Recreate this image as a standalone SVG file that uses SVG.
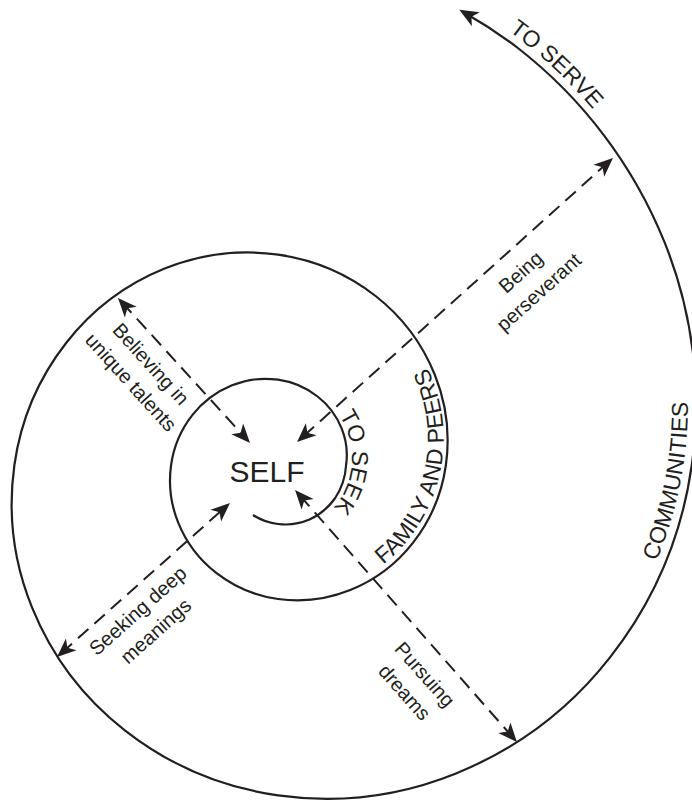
<svg xmlns="http://www.w3.org/2000/svg" width="692" height="809" viewBox="0 0 692 809">
<style>
.ln{fill:none;stroke:#231f20;stroke-width:2.2}
.dash{fill:none;stroke:#231f20;stroke-width:2;stroke-dasharray:14 8}
text{font-family:"Liberation Sans",Arial,Helvetica,sans-serif;fill:#231f20}
.lbl{font-size:20px;text-anchor:middle}
.cap{font-size:23px;text-anchor:middle}
.self{font-size:30px;text-anchor:middle}
</style>
<defs>
<marker id="ah" viewBox="-14 -9 21 18" markerWidth="21" markerHeight="18" refX="0" refY="0" orient="auto-start-reverse" markerUnits="userSpaceOnUse" overflow="visible">
<path d="M6,0 L-13,-8 L-8,0 L-13,8 Z" fill="#231f20"/>
</marker>
<path id="pSeek" d="M329.4,403.7 A76,76 0 0 1 322.4,517.9"/>
<path id="pFam" d="M355.8,582.6 A162,162 0 0 0 410.0,339.7"/>
<path id="pCom" d="M602.7,652.4 A401,401 0 0 0 673.2,297.3"/>
<path id="pServe" d="M449.3,-5.8 A483,483 0 0 1 634.2,166.1"/>
</defs>

<g id="spiral">
<path class="ln" marker-end="url(#ah)" d="M253,515
A57.5,57.5 0 0 0 278,524
A61,61 0 0 0 309.5,519.6
A64.5,64.5 0 0 0 335.2,498
A67,67 0 0 0 346.1,465
A71,71 0 0 0 341.6,428.3
A77,77 0 0 0 317.6,396.5
A83,83 0 0 0 278,379.7
A89.5,89.5 0 0 0 232,385.3
A96.5,96.5 0 0 0 192.1,415.4
A104,104 0 0 0 171.1,465
A112,112 0 0 0 178.2,522.6
A121,121 0 0 0 215.9,572.6
A130,130 0 0 0 278,599
A140.5,140.5 0 0 0 350.2,590.1
A151.5,151.5 0 0 0 412.9,542.9
A163,163 0 0 0 445.9,465
A176,176 0 0 0 434.7,374.5
A190,190 0 0 0 375.6,296
A204.5,204.5 0 0 0 278,254.65
A220.5,220.5 0 0 0 164.6,268.6
A238,238 0 0 0 66.3,342.8
A256,256 0 0 0 14.4,465
A276,276 0 0 0 31.9,607.1
A298,298 0 0 0 124.8,730.3
A321,321 0 0 0 278,795.3
A346,346 0 0 0 456,773.4
A373,373 0 0 0 610.4,656.9
A402,402 0 0 0 691.8,465
A434,434 0 0 0 664.4,241.9
A468,468 0 0 0 518.5,48.5
A488,488 0 0 0 464.5,12.8"/>
</g>

<g id="connectors">
<path class="dash" marker-start="url(#ah)" marker-end="url(#ah)" d="M122,302.4 L246,438.6"/>
<path class="dash" marker-start="url(#ah)" marker-end="url(#ah)" d="M61.5,653 L225.5,507"/>
<path class="dash" marker-start="url(#ah)" marker-end="url(#ah)" d="M608.5,162 L301.5,438"/>
<path class="dash" marker-start="url(#ah)" marker-end="url(#ah)" d="M513,737.5 L299,494.5"/>
</g>

<g id="self">
<text class="self" x="267" y="482">SELF</text>
</g>

<g id="to-seek">
<text class="cap"><textPath href="#pSeek" startOffset="50%">TO SEEK</textPath></text>
</g>
<g id="family-and-peers">
<text class="cap"><textPath href="#pFam" startOffset="50%">FAMILY AND PEERS</textPath></text>
</g>
<g id="communities">
<text class="cap"><textPath href="#pCom" startOffset="50%">COMMUNITIES</textPath></text>
</g>
<g id="to-serve">
<text class="cap"><textPath href="#pServe" startOffset="50%">TO SERVE</textPath></text>
</g>

<g id="believing" transform="translate(165.8,350.5) rotate(47.7)">
<text class="lbl" x="0" y="27">Believing in</text>
<text class="lbl" x="0" y="54">unique talents</text>
</g>
<g id="seeking" transform="translate(125,596.5) rotate(-41.7)">
<text class="lbl" x="0" y="26">Seeking deep</text>
<text class="lbl" x="0" y="53">meanings</text>
</g>
<g id="being" transform="translate(505.2,254.8) rotate(-41.9)">
<text class="lbl" x="0" y="30">Being</text>
<text class="lbl" x="0" y="57">perseverant</text>
</g>
<g id="pursuing" transform="translate(442.8,658.4) rotate(48.4)">
<text class="lbl" x="0" y="31">Pursuing</text>
<text class="lbl" x="0" y="58">dreams</text>
</g>
</svg>
